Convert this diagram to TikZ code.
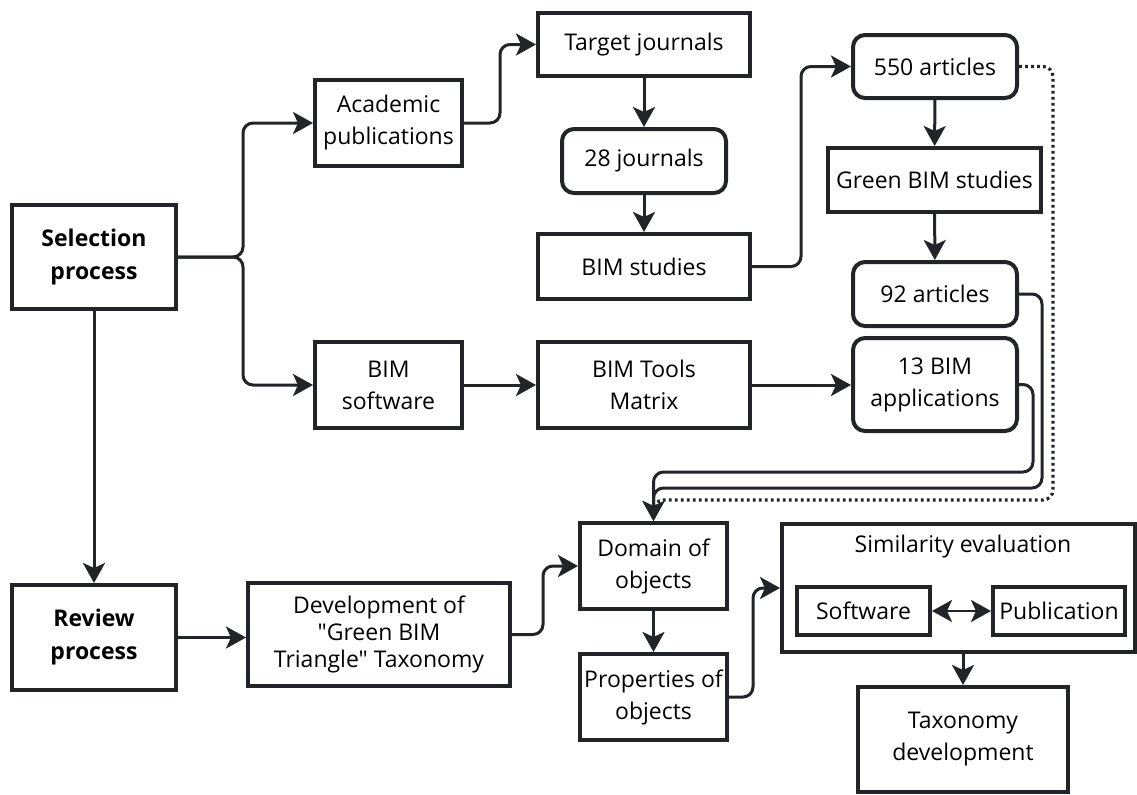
\documentclass[tikz,border=0pt]{standalone}
\usepackage{fontspec}
\setmainfont{Open Sans}[Ligatures=TeXOff]
\usetikzlibrary{arrows.meta}
\definecolor{ink}{HTML}{222428}

\tikzset{
  box/.style={draw=ink, line width=2pt, fill=white, align=center, inner sep=0pt,
    font=\fontsize{11.5}{16}\selectfont},
  rbox/.style={box, rounded corners=6pt},
  link/.style={draw=ink, line width=1.5pt, rounded corners=5pt,
    -{Stealth[length=10pt,width=11pt,inset=2.5pt]}},
  dotlink/.style={draw=ink, line width=1.6pt, rounded corners=5pt,
    dash pattern=on 1.4pt off 1.6pt},
}

\begin{document}
\begin{tikzpicture}[x=0.5pt,y=-0.5pt]
\useasboundingbox (0,0) rectangle (1137,794);

% left column
\node[box, minimum width=82pt, minimum height=52pt, font=\fontsize{11.5}{16.5}\selectfont\bfseries] (sel) at (94,257) {Selection\\process};
\node[box, minimum width=82pt, minimum height=52.5pt, font=\fontsize{11.5}{16.5}\selectfont\bfseries] (rev) at (94,637.5) {Review\\process};

% sources
\node[box, minimum width=73.5pt, minimum height=43pt] (acad) at (388.5,123) {Academic\\publications};
\node[box, minimum width=73.5pt, minimum height=43pt] (soft) at (388.5,385) {BIM\\software};

% journals branch
\node[box, minimum width=106pt, minimum height=31.5pt] (target) at (644,44.5) {Target journals};
\node[rbox, minimum width=82pt, minimum height=32pt] (j28) at (644,161) {28 journals};
\node[box, minimum width=106pt, minimum height=32.5pt] (bims) at (644,266.5) {BIM studies};
\node[box, minimum width=106pt, minimum height=43pt] (tools) at (644,385) {BIM Tools\\Matrix};

% articles branch
\node[rbox, minimum width=82pt, minimum height=31.5pt] (a550) at (935,66.5) {550 articles};
\node[box, minimum width=106.5pt, minimum height=32pt] (green) at (934.5,180) {Green BIM studies};
\node[rbox, minimum width=82pt, minimum height=32pt] (a92) at (935,294) {92 articles};
\node[rbox, minimum width=82pt, minimum height=46.5pt] (apps) at (935,384.5) {13 BIM\\applications};

% review part
\node[box, minimum width=131pt, minimum height=51.5pt, font=\fontsize{11.5}{13.5}\selectfont] (devt) at (379,634.5) {Development of\\"Green BIM\\Triangle" Taxonomy};
\node[box, minimum width=73.5pt, minimum height=43pt] (dom) at (653.5,566) {Domain of\\objects};
\node[box, minimum width=73.5pt, minimum height=43pt] (prop) at (653.5,697) {Properties of\\objects};
\node[box, minimum width=176.5pt, minimum height=64pt] (sim) at (958.5,588) {};
\node[font=\fontsize{11.5}{16}\selectfont, inner sep=0pt] (simtitle) at (963,547) {Similarity evaluation};
\node[box, minimum width=66.5pt, minimum height=24pt] (swr) at (863.5,611) {Software};
\node[box, minimum width=66pt, minimum height=24pt] (pub) at (1059,611) {Publication};
\node[box, minimum width=105pt, minimum height=52.5pt] (tax) at (963,739.5) {Taxonomy\\development};

% connectors
\draw[link] (sel.east) -- (243,257) |- (acad.west);
\draw[link] (sel.east) -- (243,257) |- (soft.west);
\draw[link] (sel.south) -- (rev.north);
\draw[link] (rev.east) -- (rev.east -| devt.west);

\draw[link] (acad.east) -- (500,123) |- (target.west);
\draw[link] (target) -- (j28);
\draw[link] (j28) -- (bims);
\draw[link] (bims.east) -- (801,266.5) |- (a550.west);
\draw[link] (soft) -- (tools);
\draw[link] (tools.east) -- (tools.east -| apps.west);

\draw[link] (a550) -- (green);
\draw[link] (green) -- (a92);
\draw[dotlink] (a550.east) -- (1053,66.5) -- (1053,500) -| (dom.north);
\draw[link] (a92.east) -- (1042,294) -- (1042,488) -| (dom.north);
\draw[link] (apps.east) -- (1033,384.5) -- (1033,472) -| (dom.north);

\draw[link] (devt.east) -- (543,634.5) |- (dom.west);
\draw[link] (dom) -- (prop);
\draw[link] (prop.east) -- (753,697) |- (sim.west);
\draw[link, line width=1.2pt, {Stealth[length=10pt,width=11pt,inset=2.5pt]}-{Stealth[length=10pt,width=11pt,inset=2.5pt]}] (swr) -- (pub);
\draw[link] (tax.north |- sim.south) -- (tax.north);

\end{tikzpicture}
\end{document}
